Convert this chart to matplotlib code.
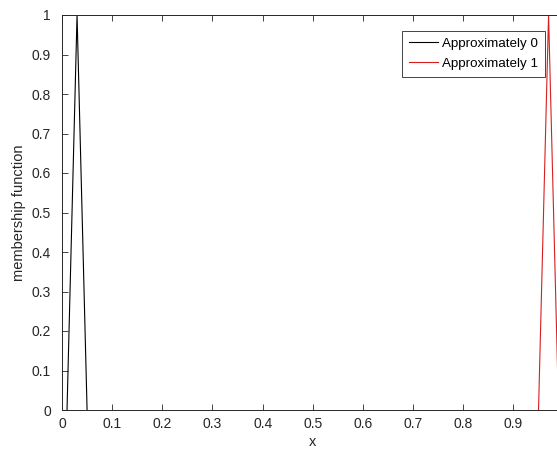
import matplotlib

matplotlib.use("Agg")

import matplotlib.pyplot as plt

plt.rcParams["font.family"] = ["Liberation Sans", "DejaVu Sans"]

# membership functions (triangles)
approx0_x = [0.01, 0.03, 0.05]
approx0_y = [0.0, 1.0, 0.0]
approx1_x = [0.95, 0.97, 0.99]
approx1_y = [0.0, 1.0, 0.0]
x_ticks = [0, 0.1, 0.2, 0.3, 0.4, 0.5, 0.6, 0.7, 0.8, 0.9, 1.0]
# the "1" label falls outside the cropped picture
x_tick_labels = ["0", "0.1", "0.2", "0.3", "0.4", "0.5", "0.6", "0.7", "0.8", "0.9", ""]
y_ticks = [0, 0.1, 0.2, 0.3, 0.4, 0.5, 0.6, 0.7, 0.8, 0.9, 1.0]
y_tick_labels = ["0", "0.1", "0.2", "0.3", "0.4", "0.5", "0.6", "0.7", "0.8", "0.9", "1"]

axis_color = "#262626"

fig = plt.figure(figsize=(5.57, 4.58), dpi=100)
W, H = 557, 458
ax = fig.add_axes([62 / W, (H - 410) / H, 501.6 / W, 395 / H])

ax.plot(approx0_x, approx0_y, color="black", lw=0.8, label="Approximately 0")
ax.plot(approx1_x, approx1_y, color="#d62020", lw=0.8, label="Approximately 1")

ax.set_xlim(0, 1)
ax.set_ylim(0, 1)
ax.set_xticks(x_ticks)
ax.set_xticklabels(x_tick_labels)
ax.set_yticks(y_ticks)
ax.set_yticklabels(y_tick_labels)
ax.tick_params(direction="in", length=4, width=0.6, colors=axis_color,
               labelsize=10, top=True, right=True)
ax.tick_params(axis="y", pad=8)
ax.tick_params(axis="x", pad=5)
for spine in ax.spines.values():
    spine.set_color(axis_color)
    spine.set_linewidth(0.7)

ax.set_xlabel("x", fontsize=10.5, color=axis_color, labelpad=3)
ax.set_ylabel("membership function", fontsize=10.5, color=axis_color, labelpad=4)

leg = ax.legend(loc="upper right", bbox_to_anchor=(545 / W, (H - 30.5) / H),
                bbox_transform=fig.transFigure, fontsize=9.6, fancybox=False,
                framealpha=1, edgecolor=axis_color, handlelength=2.2,
                borderpad=0.5, labelspacing=0.6, handletextpad=0.3,
                borderaxespad=0)
leg.get_frame().set_linewidth(0.6)

fig.savefig("out.png", dpi=100)
